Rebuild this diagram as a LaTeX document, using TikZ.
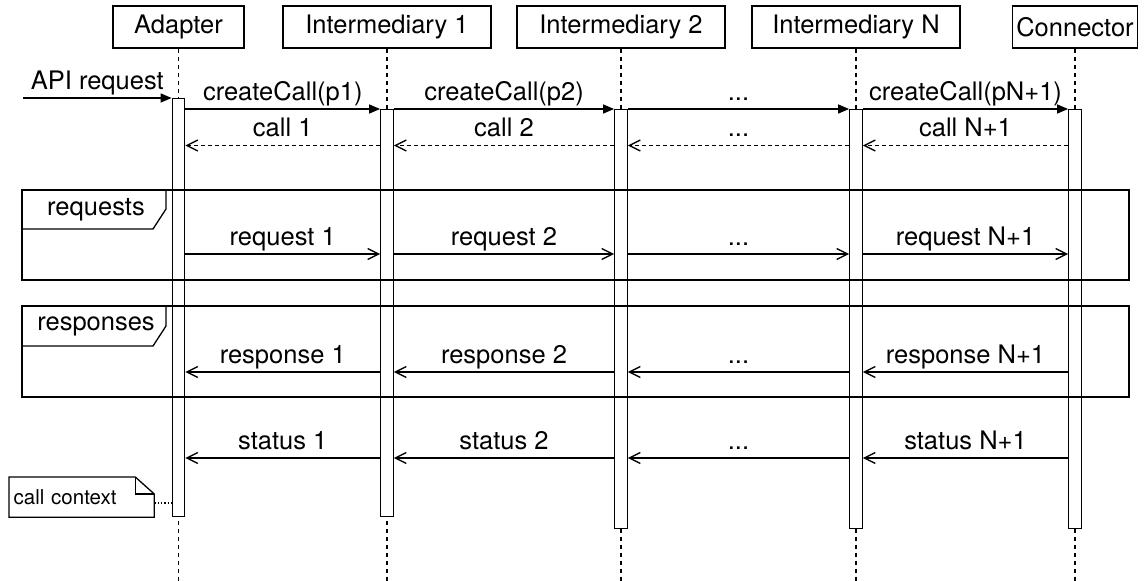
\documentclass[tikz,border=0pt]{standalone}
\usepackage{fontspec}
\setmainfont{TeX Gyre Heros}
\usetikzlibrary{arrows.meta}

\tikzset{
  lifehead/.style={draw, fill=white, minimum height=42pt, inner sep=0pt},
  actbar/.style={draw, fill=white, minimum width=12.5pt, inner sep=0pt, anchor=north},
  lifeline/.style={dash pattern=on 4pt off 4pt},
  msg/.style={-{Triangle[length=11pt,width=9pt]}},
  reply/.style={dash pattern=on 4pt off 3pt, -{Straight Barb[length=11pt,width=11pt]}},
  async/.style={-{Straight Barb[length=11pt,width=11pt]}},
  lbl/.style={midway, anchor=base, yshift=9pt, inner sep=0pt},
}

\begin{document}
\begin{tikzpicture}[x=10pt, y=-10pt, line width=1.3pt, font=\fontsize{25.5}{30}\selectfont]
\useasboundingbox (0,0) rectangle (114.6,58.1);

\node[lifehead, minimum width=131pt] (adp) at (17.85,2.7) {Adapter};
\node[lifehead, minimum width=208pt] (im1) at (38.7,2.7) {Intermediary 1};
\node[lifehead, minimum width=208pt] (im2) at (62.1,2.7) {Intermediary 2};
\node[lifehead, minimum width=208pt] (imn) at (85.6,2.7) {Intermediary N};
\node[lifehead, minimum width=125pt] (con) at (107.5,2.7) {Connector};

\draw[lifeline] (adp.south) -- (adp.south |- 0,58.1);
\draw[lifeline] (im1.south) -- (im1.south |- 0,58.1);
\draw[lifeline] (im2.south) -- (im2.south |- 0,58.1);
\draw[lifeline] (imn.south) -- (imn.south |- 0,58.1);
\draw[lifeline] (con.south) -- (con.south |- 0,58.1);

\node[actbar, minimum height=418pt] (adpbar) at (17.85,9.8) {};
\node[actbar, minimum height=407pt] (im1bar) at (38.7,10.9) {};
\node[actbar, minimum height=419pt] (im2bar) at (62.1,10.9) {};
\node[actbar, minimum height=419pt] (imnbar) at (85.6,10.9) {};
\node[actbar, minimum height=419pt] (conbar) at (107.5,10.9) {};

% frames
\draw (2.2,19) rectangle (112.9,28);
\draw (2.2,22.9) -- (15.3,22.9) -- (16.6,20.9) -- (16.6,19);
\node (reqtag) at (9.6,20.95) {requests};
\draw (2.2,30.6) rectangle (112.9,39.7);
\draw (2.2,34.6) -- (15.3,34.6) -- (16.6,32.6) -- (16.6,30.6);
\node (restag) at (9.6,32.6) {responses};

% calls
\coordinate (apiin) at (2.3,9.8);
\draw[msg] (apiin) -- node[lbl] {API request} (adpbar.north west);
\draw[msg] (adpbar.east |- im1bar.north) -- node[lbl] {createCall(p1)} (im1bar.north west);
\draw[msg] (im1bar.north east) -- node[lbl] {createCall(p2)} (im2bar.north west);
\draw[msg] (im2bar.north east) -- node[lbl] {...} (imnbar.north west);
\draw[msg] (imnbar.north east) -- node[lbl] {createCall(pN+1)} (conbar.north west);

\draw[reply] (im1bar.west |- 0,14.55) -- node[lbl] {call 1} (adpbar.east |- 0,14.55);
\draw[reply] (im2bar.west |- 0,14.55) -- node[lbl] {call 2} (im1bar.east |- 0,14.55);
\draw[reply] (imnbar.west |- 0,14.55) -- node[lbl] {...} (im2bar.east |- 0,14.55);
\draw[reply] (conbar.west |- 0,14.55) -- node[lbl] {call N+1} (imnbar.east |- 0,14.55);

% requests
\draw[async] (adpbar.east |- 0,25.4) -- node[lbl] {request 1} (im1bar.west |- 0,25.4);
\draw[async] (im1bar.east |- 0,25.4) -- node[lbl] {request 2} (im2bar.west |- 0,25.4);
\draw[async] (im2bar.east |- 0,25.4) -- node[lbl] {...} (imnbar.west |- 0,25.4);
\draw[async] (imnbar.east |- 0,25.4) -- node[lbl] {request N+1} (conbar.west |- 0,25.4);

% responses
\draw[async] (im1bar.west |- 0,37.2) -- node[lbl] {response 1} (adpbar.east |- 0,37.2);
\draw[async] (im2bar.west |- 0,37.2) -- node[lbl] {response 2} (im1bar.east |- 0,37.2);
\draw[async] (imnbar.west |- 0,37.2) -- node[lbl] {...} (im2bar.east |- 0,37.2);
\draw[async] (conbar.west |- 0,37.2) -- node[lbl] {response N+1} (imnbar.east |- 0,37.2);

% status
\draw[async] (im1bar.west |- 0,45.8) -- node[lbl] {status 1} (adpbar.east |- 0,45.8);
\draw[async] (im2bar.west |- 0,45.8) -- node[lbl] {status 2} (im1bar.east |- 0,45.8);
\draw[async] (imnbar.west |- 0,45.8) -- node[lbl] {...} (im2bar.east |- 0,45.8);
\draw[async] (conbar.west |- 0,45.8) -- node[lbl] {status N+1} (imnbar.east |- 0,45.8);

% note
\node[anchor=north west, minimum height=39pt, text width=136pt, inner xsep=4pt, align=left, font=\fontsize{20.5}{24}\selectfont] (ctx) at (0.9,47.7) {call context};
\draw (ctx.north west) -- ([xshift=-19pt]ctx.north east) -- ([yshift=-17pt]ctx.north east) -- (ctx.south east) -- (ctx.south west) -- cycle;
\draw ([xshift=-19pt]ctx.north east) -- ([xshift=-19pt,yshift=-17pt]ctx.north east) -- ([yshift=-17pt]ctx.north east);
\draw[dotted] (ctx.east |- 0,50.3) -- (adpbar.west |- 0,50.3);

\end{tikzpicture}
\end{document}
